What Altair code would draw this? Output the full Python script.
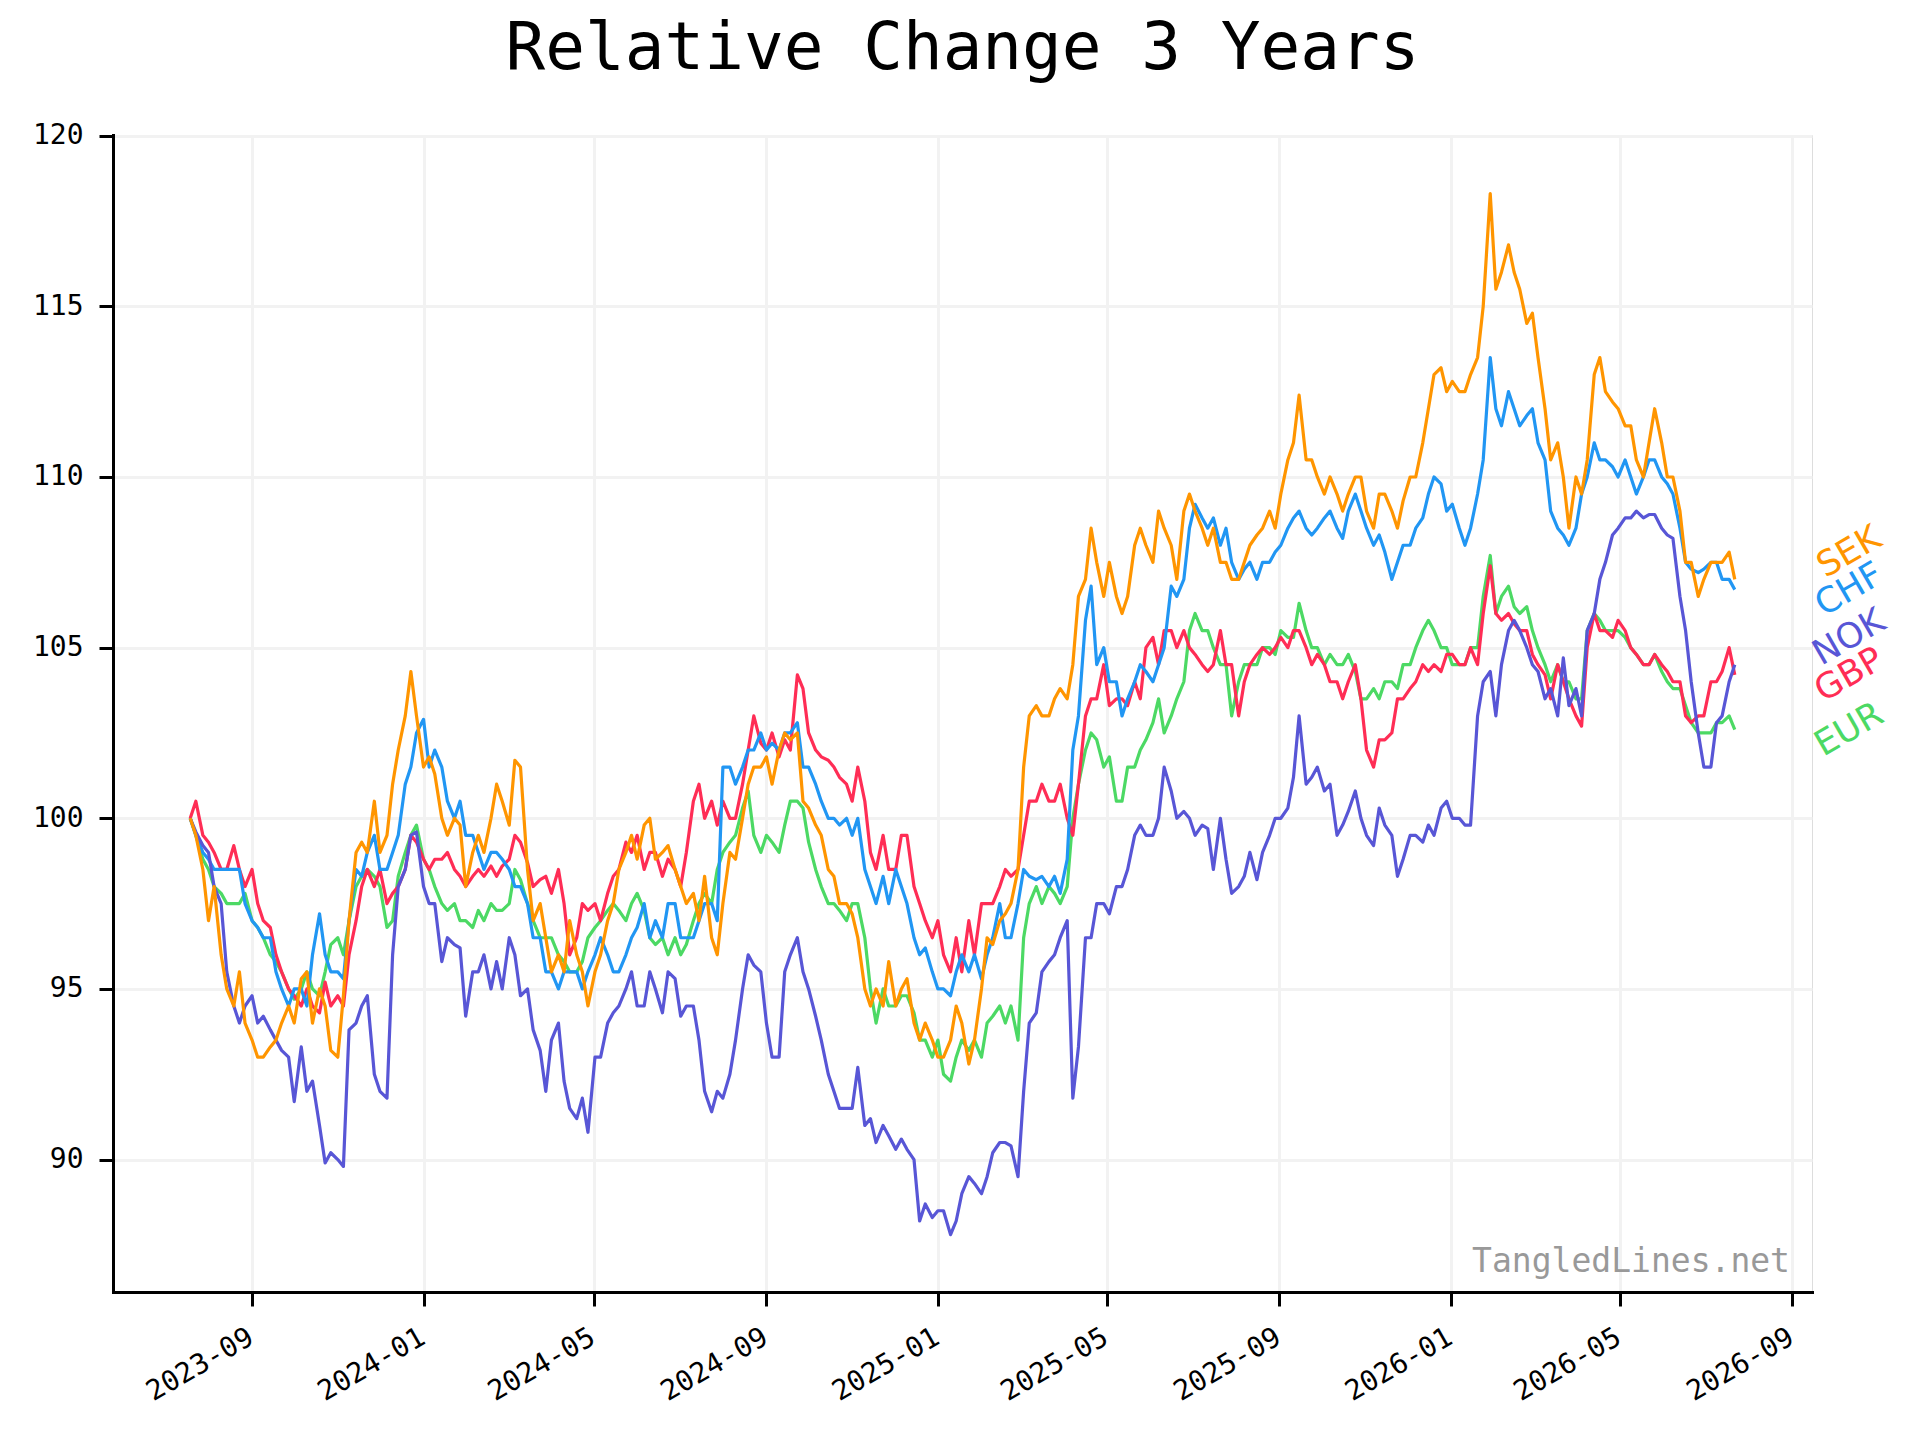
import altair as alt
import pandas as pd

# ---------------- data ----------------
START, END = "2023-07-19", "2026-07-22"
N_POINTS = 253  # readings taken at an even spacing of about 4.35 days

sek = [
    100.0, 99.5, 98.5, 97.0, 98.0, 96.0, 95.0, 94.5, 95.5, 94.0, 93.5, 93.0, 93.0, 93.3, 93.5, 94.0, 94.5, 94.0, 95.3, 95.5,
    94.0, 95.0, 94.5, 93.2, 93.0, 94.8, 97.0, 99.0, 99.3, 99.0, 100.5, 99.0, 99.5, 101.0, 102.0, 103.0, 104.3, 103.0, 101.5, 101.8,
    101.3, 100.0, 99.5, 100.0, 99.8, 98.0, 99.0, 99.5, 99.0, 100.0, 101.0, 100.5, 99.8, 101.7, 101.5, 98.5, 97.0, 97.5, 96.5, 95.5,
    96.0, 95.5, 97.0, 96.0, 95.5, 94.5, 95.5, 96.0, 97.0, 97.5, 98.5, 99.0, 99.5, 98.8, 99.8, 100.0, 98.8, 99.0, 99.2, 98.5,
    98.0, 97.5, 97.8, 97.0, 98.3, 96.5, 96.0, 97.5, 99.0, 98.8, 100.0, 101.0, 101.5, 101.5, 101.8, 101.0, 102.0, 102.5, 102.3, 102.5,
    100.5, 100.3, 99.8, 99.5, 98.5, 98.3, 97.5, 97.5, 97.2, 96.5, 95.0, 94.5, 95.0, 94.5, 95.8, 94.5, 95.0, 95.3, 94.0, 93.5,
    94.0, 93.5, 93.0, 93.0, 93.5, 94.5, 94.0, 92.8, 93.5, 95.0, 96.5, 96.3, 97.0, 97.2, 97.5, 98.5, 101.5, 103.0, 103.3, 103.0,
    103.0, 103.5, 103.8, 103.5, 104.5, 106.5, 107.0, 108.5, 107.5, 106.5, 107.5, 106.5, 106.0, 106.5, 108.0, 108.5, 108.0, 107.5, 109.0, 108.5,
    108.0, 107.0, 109.0, 109.5, 109.0, 108.5, 108.0, 108.5, 107.5, 107.5, 107.0, 107.0, 107.5, 108.0, 108.3, 108.5, 109.0, 108.5, 109.5, 110.5,
    111.0, 112.4, 110.5, 110.5, 110.0, 109.5, 110.0, 109.5, 109.0, 109.5, 110.0, 110.0, 109.0, 108.5, 109.5, 109.5, 109.0, 108.5, 109.3, 110.0,
    110.0, 111.0, 112.0, 113.0, 113.2, 112.5, 112.8, 112.5, 112.5, 113.0, 113.5, 115.0, 118.3, 115.5, 116.0, 116.8, 116.0, 115.5, 114.5, 114.8,
    113.5, 112.0, 110.5, 111.0, 110.0, 108.5, 110.0, 109.5, 110.5, 113.0, 113.5, 112.5, 112.2, 112.0, 111.5, 111.5, 110.5, 110.0, 111.0, 112.0,
    111.0, 110.0, 110.0, 109.0, 107.5, 107.5, 106.5, 107.0, 107.5, 107.5, 107.5, 107.8, 107.0,
]

chf = [
    100.0, 99.5, 99.0, 98.8, 98.5, 98.5, 98.5, 98.5, 98.5, 97.5, 97.0, 96.8, 96.5, 96.5, 95.5, 95.0, 94.5, 95.0, 95.0, 94.5,
    96.0, 97.2, 96.0, 95.5, 95.5, 95.3, 97.0, 98.5, 98.3, 99.0, 99.5, 98.5, 98.5, 99.0, 99.5, 101.0, 101.5, 102.5, 102.9, 101.5,
    102.0, 101.5, 100.5, 100.0, 100.5, 99.5, 99.5, 99.0, 98.5, 99.0, 99.0, 98.8, 98.5, 98.0, 98.0, 97.5, 96.5, 96.5, 95.5, 95.5,
    95.0, 95.5, 95.5, 95.5, 95.0, 95.5, 96.0, 96.5, 96.0, 95.5, 95.5, 96.0, 96.5, 96.8, 97.5, 96.5, 97.0, 96.5, 97.5, 97.5,
    96.5, 96.5, 96.5, 97.0, 97.5, 97.5, 97.0, 101.5, 101.5, 101.0, 101.5, 102.0, 102.0, 102.5, 102.0, 102.2, 102.0, 102.5, 102.5, 102.8,
    101.5, 101.5, 101.0, 100.5, 100.0, 100.0, 99.8, 100.0, 99.5, 100.0, 98.5, 98.0, 97.5, 98.3, 97.5, 98.5, 98.0, 97.5, 96.5, 96.0,
    96.2, 95.5, 95.0, 95.0, 94.8, 95.5, 96.0, 95.5, 96.0, 95.3, 96.0, 96.5, 97.5, 96.5, 96.5, 97.5, 98.5, 98.3, 98.2, 98.3,
    98.0, 98.3, 97.8, 98.8, 102.0, 103.0, 105.8, 106.8, 104.5, 105.0, 104.0, 104.0, 103.0, 103.5, 104.0, 104.5, 104.3, 104.0, 104.5, 105.0,
    106.8, 106.5, 107.0, 108.5, 109.2, 108.8, 108.5, 108.8, 108.0, 108.5, 107.5, 107.0, 107.3, 107.5, 107.0, 107.5, 107.5, 107.8, 108.0, 108.5,
    108.8, 109.0, 108.5, 108.3, 108.5, 108.8, 109.0, 108.5, 108.2, 109.0, 109.5, 109.0, 108.5, 108.0, 108.3, 107.8, 107.0, 107.5, 108.0, 108.0,
    108.5, 108.8, 109.5, 110.0, 109.8, 109.0, 109.2, 108.5, 108.0, 108.5, 109.5, 110.5, 113.5, 112.0, 111.5, 112.5, 112.0, 111.5, 111.8, 112.0,
    111.0, 110.5, 109.0, 108.5, 108.3, 108.0, 108.5, 109.5, 110.0, 111.0, 110.5, 110.5, 110.3, 110.0, 110.5, 110.0, 109.5, 110.0, 110.5, 110.5,
    110.0, 109.8, 109.5, 108.5, 107.5, 107.3, 107.2, 107.3, 107.5, 107.5, 107.0, 107.0, 106.7,
]

nok = [
    100.0, 99.6, 99.2, 99.0, 98.0, 97.5, 95.5, 94.5, 94.0, 94.5, 94.8, 94.0, 94.2, 93.8, 93.5, 93.2, 93.0, 91.7, 93.3, 92.0,
    92.3, 91.0, 89.9, 90.2, 90.0, 89.8, 93.8, 94.0, 94.5, 94.8, 92.5, 92.0, 91.8, 96.0, 98.0, 98.5, 99.5, 99.6, 98.0, 97.5,
    97.5, 95.8, 96.5, 96.3, 96.2, 94.2, 95.5, 95.5, 96.0, 95.0, 95.8, 95.0, 96.5, 96.0, 94.8, 95.0, 93.8, 93.2, 92.0, 93.5,
    94.0, 92.3, 91.5, 91.2, 91.8, 90.8, 93.0, 93.0, 94.0, 94.3, 94.5, 95.0, 95.5, 94.5, 94.5, 95.5, 95.0, 94.3, 95.5, 95.3,
    94.2, 94.5, 94.5, 93.5, 92.0, 91.4, 92.0, 91.8, 92.5, 93.5, 95.0, 96.0, 95.7, 95.5, 94.0, 93.0, 93.0, 95.5, 96.0, 96.5,
    95.5, 95.0, 94.2, 93.5, 92.5, 92.0, 91.5, 91.5, 91.5, 92.7, 91.0, 91.2, 90.5, 91.0, 90.7, 90.3, 90.6, 90.3, 90.0, 88.2,
    88.7, 88.3, 88.5, 88.5, 87.8, 88.2, 89.0, 89.5, 89.3, 89.0, 89.5, 90.2, 90.5, 90.5, 90.4, 89.5, 92.0, 94.0, 94.3, 95.5,
    95.8, 96.0, 96.5, 97.0, 91.8, 93.3, 96.5, 96.5, 97.5, 97.5, 97.2, 98.0, 98.0, 98.5, 99.5, 99.8, 99.5, 99.5, 100.0, 101.5,
    100.8, 100.0, 100.2, 100.0, 99.5, 99.8, 99.7, 98.5, 100.0, 98.8, 97.8, 98.0, 98.3, 99.0, 98.2, 99.0, 99.5, 100.0, 100.0, 100.3,
    101.2, 103.0, 101.0, 101.2, 101.5, 100.8, 101.0, 99.5, 99.8, 100.2, 100.8, 100.0, 99.5, 99.2, 100.3, 99.8, 99.5, 98.3, 98.8, 99.5,
    99.5, 99.3, 99.8, 99.5, 100.3, 100.5, 100.0, 100.0, 99.8, 99.8, 103.0, 104.0, 104.3, 103.0, 104.5, 105.5, 105.8, 105.5, 105.0, 104.5,
    104.3, 103.5, 103.8, 103.0, 104.7, 103.3, 103.8, 103.0, 105.5, 106.0, 107.0, 107.5, 108.3, 108.5, 108.8, 108.8, 109.0, 108.8, 108.9, 108.9,
    108.5, 108.3, 108.2, 106.5, 105.5, 104.0, 102.5, 101.5, 101.5, 102.8, 103.0, 104.0, 104.5,
]

gbp = [
    100.0, 100.5, 99.5, 99.3, 99.0, 98.5, 98.5, 99.2, 98.5, 98.0, 98.5, 97.5, 97.0, 96.8, 96.0, 95.5, 95.0, 94.8, 94.5, 95.0,
    94.5, 94.3, 95.2, 94.5, 94.8, 94.5, 96.0, 97.0, 98.0, 98.5, 98.0, 98.5, 97.5, 97.8, 98.0, 98.5, 99.5, 99.3, 98.8, 98.5,
    98.8, 98.8, 99.0, 98.5, 98.3, 98.0, 98.3, 98.5, 98.3, 98.6, 98.3, 98.6, 98.8, 99.5, 99.3, 98.7, 98.0, 98.2, 98.3, 97.8,
    98.5, 97.5, 96.0, 96.5, 97.5, 97.3, 97.5, 97.0, 97.8, 98.3, 98.5, 99.3, 99.0, 99.5, 98.5, 99.0, 99.0, 98.3, 98.8, 98.5,
    98.0, 99.0, 100.5, 101.0, 100.0, 100.5, 99.8, 100.5, 100.0, 100.0, 101.0, 102.0, 103.0, 102.2, 102.0, 102.5, 101.8, 102.3, 102.0, 104.2,
    103.8, 102.5, 102.0, 101.8, 101.7, 101.5, 101.2, 101.0, 100.5, 101.5, 100.5, 99.0, 98.5, 99.5, 98.5, 98.5, 99.5, 99.5, 98.0, 97.5,
    97.0, 96.5, 97.0, 96.0, 95.5, 96.5, 95.5, 97.0, 96.0, 97.5, 97.5, 97.5, 98.0, 98.5, 98.3, 98.5, 99.5, 100.5, 100.5, 101.0,
    100.5, 100.5, 101.0, 100.0, 99.5, 101.0, 103.0, 103.5, 103.5, 104.5, 103.3, 103.5, 103.5, 103.3, 104.0, 103.5, 105.0, 105.3, 104.5, 105.5,
    105.5, 105.0, 105.5, 105.0, 104.8, 104.5, 104.3, 104.5, 105.5, 104.5, 104.5, 103.0, 104.0, 104.5, 104.8, 105.0, 104.8, 105.0, 105.3, 105.0,
    105.5, 105.5, 105.0, 104.5, 104.8, 104.5, 104.0, 104.0, 103.5, 104.0, 104.5, 103.5, 102.0, 101.5, 102.3, 102.3, 102.5, 103.5, 103.5, 103.8,
    104.0, 104.5, 104.3, 104.5, 104.3, 104.8, 104.8, 104.5, 104.5, 105.0, 104.5, 106.0, 107.4, 106.0, 105.8, 106.0, 105.7, 105.5, 105.5, 104.8,
    104.5, 104.2, 103.5, 104.5, 104.0, 103.5, 103.0, 102.7, 105.0, 106.0, 105.5, 105.5, 105.3, 105.8, 105.5, 105.0, 104.8, 104.5, 104.5, 104.8,
    104.5, 104.3, 104.0, 104.0, 103.0, 102.8, 103.0, 103.0, 104.0, 104.0, 104.3, 105.0, 104.2,
]

eur = [
    100.0, 99.5, 98.8, 98.5, 98.0, 97.8, 97.5, 97.5, 97.5, 97.8, 97.0, 96.8, 96.5, 96.0, 95.8, 95.5, 95.0, 94.7, 95.0, 95.5,
    95.0, 94.8, 95.5, 96.3, 96.5, 96.0, 97.0, 98.0, 98.3, 98.5, 98.3, 98.0, 96.8, 97.0, 98.3, 99.0, 99.5, 99.8, 98.8, 98.5,
    98.0, 97.5, 97.3, 97.5, 97.0, 97.0, 96.8, 97.3, 97.0, 97.5, 97.3, 97.3, 97.5, 98.5, 98.2, 97.5, 97.0, 96.5, 96.5, 96.5,
    96.0, 95.8, 95.5, 95.5, 95.8, 96.5, 96.8, 97.0, 97.3, 97.5, 97.3, 97.0, 97.5, 97.8, 97.3, 96.5, 96.3, 96.5, 96.0, 96.5,
    96.0, 96.3, 97.0, 97.5, 97.8, 97.5, 98.5, 99.0, 99.3, 99.5, 100.3, 100.8, 99.5, 99.0, 99.5, 99.3, 99.0, 99.8, 100.5, 100.5,
    100.3, 99.3, 98.5, 98.0, 97.5, 97.5, 97.3, 97.0, 97.5, 97.5, 96.5, 95.0, 94.0, 95.0, 94.5, 94.5, 94.8, 94.8, 94.3, 93.5,
    93.5, 93.0, 93.5, 92.5, 92.3, 93.0, 93.5, 93.2, 93.5, 93.0, 94.0, 94.2, 94.5, 94.0, 94.5, 93.5, 96.5, 97.5, 98.0, 97.5,
    98.0, 97.8, 97.5, 98.0, 100.0, 101.0, 102.0, 102.5, 102.3, 101.5, 101.8, 100.5, 100.5, 101.5, 101.5, 102.0, 102.3, 102.8, 103.5, 102.5,
    103.0, 103.5, 104.0, 105.5, 106.0, 105.5, 105.5, 105.0, 104.5, 104.5, 103.0, 104.0, 104.5, 104.5, 104.5, 105.0, 105.0, 104.8, 105.5, 105.3,
    105.3, 106.3, 105.5, 105.0, 105.0, 104.5, 104.8, 104.5, 104.5, 104.8, 104.3, 103.5, 103.5, 103.8, 103.5, 104.0, 104.0, 103.8, 104.5, 104.5,
    105.0, 105.5, 105.8, 105.5, 105.0, 105.0, 104.5, 104.5, 104.5, 105.0, 105.0, 106.5, 107.7, 106.0, 106.5, 106.8, 106.2, 106.0, 106.2, 105.5,
    105.0, 104.5, 104.0, 104.5, 104.0, 104.0, 103.5, 103.5, 105.5, 106.0, 105.8, 105.5, 105.5, 105.5, 105.3, 105.0, 104.8, 104.5, 104.5, 104.8,
    104.3, 104.0, 103.8, 103.8, 103.3, 102.8, 102.5, 102.5, 102.5, 102.8, 102.8, 103.0, 102.6,
]

# drawing order (bottom -> top)
currencies = ["EUR", "GBP", "CHF", "NOK", "SEK"]
series = {"SEK": sek, "CHF": chf, "NOK": nok, "GBP": gbp, "EUR": eur}
palette = {
    "SEK": "#FF9500",
    "CHF": "#2196F3",
    "NOK": "#5856D6",
    "GBP": "#FF2D55",
    "EUR": "#4CD964",
}

y_ticks = [90, 95, 100, 105, 110, 115, 120]
x_tick_dates = ["2023-09-01", "2024-01-01", "2024-05-01", "2024-09-01",
                "2025-01-01", "2025-05-01", "2025-09-01", "2026-01-01",
                "2026-05-01", "2026-09-01"]
Y_DOMAIN = [86.12, 120.02]
TITLE = "Relative Change 3 Years"
WATERMARK = "TangledLines.net"

# ---------------- build tables ----------------
dates = pd.date_range(START, END, periods=N_POINTS).round("D")
date_str = [d.strftime("%Y-%m-%d") for d in dates]

rows = []
for c in currencies:
    vals = series[c]
    assert len(vals) == N_POINTS, (c, len(vals))
    for d, v in zip(date_str, vals):
        rows.append({"date": d, "value": v, "currency": c})
df = pd.DataFrame(rows)

# end labels, spread apart so they do not overlap
last = sorted(((series[c][-1], c) for c in currencies))
label_rows = []
prev = None
GAP = 1.1
for v, c in last:
    y = v if prev is None else max(v, prev + GAP)
    prev = y
    label_rows.append({"date": date_str[-1], "ly": y, "currency": c})
labels_df = pd.DataFrame(label_rows)


def ms(s):
    return int(pd.Timestamp(s, tz="UTC").value // 10**6)


t0, t1 = ms(date_str[0]), ms(date_str[-1])
span = t1 - t0
x_domain = [t0 - 0.05 * span, t1 + 0.05 * span]
x_values = [ms(s) for s in x_tick_dates]

# ---------------- chart ----------------
W, H = 1699, 1157
MONO = "DejaVu Sans Mono"
TICK_FONT = 28

x_enc = alt.X(
    "date:T",
    scale=alt.Scale(type="utc", domain=x_domain, nice=False),
    axis=alt.Axis(
        title=None, values=x_values,
        labelExpr="utcFormat(datum.value, '%Y-%m')",
        labelAngle=330, labelAlign="right", labelBaseline="top",
        labelOffset=-8, labelPadding=17, labelFlush=False, labelOverlap=False,
        labelFont=MONO, labelFontSize=TICK_FONT, labelColor="black",
        tickSize=14, tickWidth=3, tickColor="black",
        domainColor="black", domainWidth=3, domainCap="square",
        grid=True, gridColor="#f2f2f2", gridWidth=3,
    ),
)
y_enc = alt.Y(
    "value:Q",
    scale=alt.Scale(domain=Y_DOMAIN, nice=False, zero=False),
    axis=alt.Axis(
        title=None, values=y_ticks, format="d",
        labelFont=MONO, labelFontSize=TICK_FONT, labelColor="black",
        labelPadding=16,
        tickSize=14, tickWidth=3, tickColor="black",
        domainColor="black", domainWidth=3, domainCap="square",
        grid=True, gridColor="#f2f2f2", gridWidth=3,
    ),
)

layers = []
for i, c in enumerate(currencies):
    ln = alt.Chart(df).transform_filter(alt.datum.currency == c).mark_line(
        color=palette[c], strokeWidth=3.2, strokeJoin="round"
    ).encode(x=x_enc if i == 0 else alt.X("date:T"),
             y=y_enc if i == 0 else alt.Y("value:Q"))
    layers.append(ln)

labels = alt.Chart(labels_df).mark_text(
    font="DejaVu Sans", fontSize=35, angle=330, align="center",
    baseline="middle", dx=99, dy=57,
).encode(
    x=alt.X("date:T"),
    y=alt.Y("ly:Q"),
    color=alt.Color("currency:N",
                    scale=alt.Scale(domain=list(palette.keys()),
                                    range=list(palette.values())),
                    legend=None),
    text="currency:N",
)

watermark = alt.Chart(pd.DataFrame({"t": [WATERMARK]})).mark_text(
    font=MONO, fontSize=33, color="#999999", align="right",
    baseline="alphabetic",
).encode(x=alt.value(W - 22), y=alt.value(H - 20), text="t:N")

chart = alt.layer(*layers, labels, watermark).properties(
    width=W, height=H,
    title=alt.TitleParams(
        text=TITLE, font=MONO, fontSize=66, fontWeight="normal",
        color="black", anchor="middle", frame="group",
        baseline="alphabetic", offset=54, dy=67,
    ),
    autosize=alt.AutoSizeParams(type="none"),
    padding={"left": 105, "top": 127, "right": 100, "bottom": 140},
).configure_view(stroke="transparent").configure(background="white")

chart.save("out.html", embed_options={"renderer": "svg", "actions": False})
